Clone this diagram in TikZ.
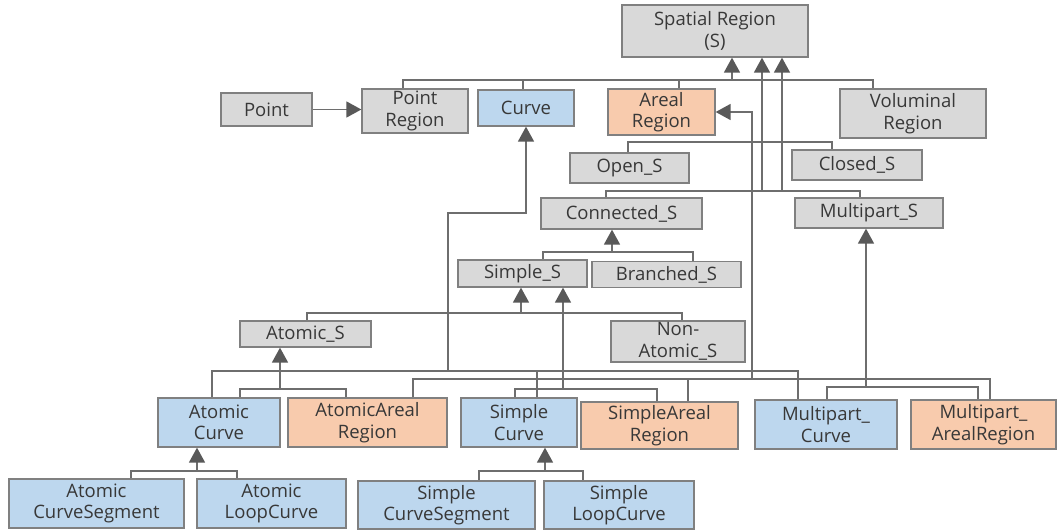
\documentclass[tikz,border=0pt]{standalone}
\usepackage{fontspec}
\setmainfont{Open Sans}
\usetikzlibrary{arrows.meta}
\definecolor{boxgray}{HTML}{D9D9D9}
\definecolor{boxblue}{HTML}{BDD7EE}
\definecolor{boxorange}{HTML}{F8CBAD}
\definecolor{edgec}{HTML}{808080}
\definecolor{wirec}{HTML}{6E6E6E}
\definecolor{tipc}{HTML}{595959}
\definecolor{txtc}{HTML}{383838}
\begin{document}
\begin{tikzpicture}[x=1pt,y=-1pt,
  basebox/.style={draw=edgec, line width=1.3pt, inner sep=0pt, align=center, text=txtc,
    font=\fontsize{18.5}{21.5}\selectfont},
  gbox/.style={basebox, fill=boxgray},
  bbox/.style={basebox, fill=boxblue},
  obox/.style={basebox, fill=boxorange},
  sz/.style 2 args={minimum width=#1pt, minimum height=#2pt},
  wire/.style={draw=wirec, line width=1.6pt, line join=miter},
  arr/.style={wire, -{Triangle[width=16pt,length=15pt,color=tipc]}}]
\useasboundingbox (0,0) rectangle (1057,532);
\fill[white] (0,0) rectangle (1057,532);

% nodes
\node[gbox, sz={186}{52}] (SR) at (715,31) {Spatial Region\\(S)};
\node[gbox, sz={91}{33}] (PT) at (266.5,109.5) {Point};
\node[gbox, sz={106}{44}] (PR) at (415,111) {Point\\Region};
\node[bbox, sz={96}{36}] (CU) at (526,108) {Curve};
\node[obox, sz={107}{46}] (AR) at (661.5,112) {Areal\\Region};
\node[gbox, sz={146}{49}] (VR) at (913,113.5) {Voluminal\\Region};
\node[gbox, sz={119}{30}] (OS) at (629.5,168) {Open\_S};
\node[gbox, sz={130}{30}] (CLS) at (857,165) {Closed\_S};
\node[gbox, sz={161}{31}] (CS) at (621.5,213.5) {Connected\_S};
\node[gbox, sz={148}{30}] (MS) at (869,213) {Multipart\_S};
\node[gbox, sz={129}{27}] (SS) at (522.5,273.5) {Simple\_S};
\node[gbox, sz={149}{26}] (BS) at (666.5,274.5) {Branched\_S};
\node[gbox, sz={131}{26}] (AS) at (305.5,334) {Atomic\_S};
\node[gbox, sz={134}{41}] (NA) at (678,341.5) {Non-\\Atomic\_S};
\node[bbox, sz={122}{49}] (AC) at (219,422.5) {Atomic\\Curve};
\node[obox, sz={159}{49}] (AAR) at (367.5,422.5) {AtomicAreal\\Region};
\node[bbox, sz={116}{49}] (SC) at (519,422.5) {Simple\\Curve};
\node[obox, sz={157}{47}] (SAR) at (659.5,425.5) {SimpleAreal\\Region};
\node[bbox, sz={142}{49}] (MC) at (826,424.5) {Multipart\_\\Curve};
\node[obox, sz={145}{49}] (MAR) at (983.5,424.5) {Multipart\_\\ArealRegion};
\node[bbox, sz={175}{49}] (ACS) at (96.5,503.5) {Atomic\\CurveSegment};
\node[bbox, sz={149}{49}] (ALC) at (271.5,503.5) {Atomic\\LoopCurve};
\node[bbox, sz={177}{48}] (SCS) at (446.5,505) {Simple\\CurveSegment};
\node[bbox, sz={150}{48}] (SLC) at (619,505) {Simple\\LoopCurve};

% top group
\coordinate (t1) at (403,80); \coordinate (t2) at (523,80);
\coordinate (t3) at (679,80); \coordinate (t4) at (873,80);
\coordinate (t0) at (732,80);
\draw[wire] (t1 |- PR.north) -- (t1) -- (t4) -- (t4 |- VR.north);
\draw[wire] (t2) -- (t2 |- CU.north);
\draw[wire] (t3) -- (t3 |- AR.north);
\draw[arr] (t0) -- (t0 |- SR.south);

% point
\draw[arr] (PT.east) -- (PT.east -| PR.west);

% open / closed
\coordinate (o1) at (628,142); \coordinate (o2) at (832,142);
\draw[wire] (o1 |- OS.north) -- (o1) -- (o2) -- (o2 |- CLS.north);

% connected / multipart
\coordinate (k1) at (606,191); \coordinate (k2) at (860,191);
\coordinate (k3) at (762,191); \coordinate (k4) at (782,191);
\draw[wire] (k1 |- CS.north) -- (k1) -- (k2) -- (k2 |- MS.north);
\draw[arr] (k3) -- (k3 |- SR.south);
\draw[arr] (k4) -- (k4 |- SR.south);

% simple / branched
\coordinate (n1) at (543,252); \coordinate (n2) at (693,252); \coordinate (n0) at (612,252);
\draw[wire] (n1 |- SS.north) -- (n1) -- (n2) -- (n2 |- BS.north);
\draw[arr] (n0) -- (n0 |- CS.south);

% atomic / non-atomic
\coordinate (q1) at (307,313); \coordinate (q2) at (682,313); \coordinate (q0) at (521,313);
\draw[wire] (q1 |- AS.north) -- (q1) -- (q2) -- (q2 |- NA.north);
\draw[arr] (q0) -- (q0 |- SS.south);

% curve group
\coordinate (c1) at (212,371); \coordinate (c2) at (537,371); \coordinate (c3) at (798,371);
\coordinate (cu) at (448,371); \coordinate (cuk) at (448,213);
\draw[wire] (c1 |- AC.north) -- (c1) -- (c3) -- (c3 |- MC.north);
\draw[wire] (c2) -- (c2 |- SC.north);
\draw[arr] (cu) -- (cuk) -| (CU.south);

% areal group
\coordinate (a1) at (413,379); \coordinate (a2) at (688,379); \coordinate (a3) at (990,379);
\coordinate (aj) at (752,379);
\draw[wire] (a1 |- AAR.north) -- (a1) -- (a3) -- (a3 |- MAR.north);
\draw[wire] (a2) -- (a2 |- SAR.north);
\draw[arr] (aj) |- (AR.east);

% multipart group
\coordinate (m1) at (827,387); \coordinate (m2) at (978,387); \coordinate (m0) at (866,387);
\draw[wire] (m1 |- MC.north) -- (m1) -- (m2) -- (m2 |- MAR.north);
\draw[arr] (m0) -- (m0 |- MS.south);

% atomic_s group
\coordinate (s1) at (240,389); \coordinate (s2) at (346,389); \coordinate (s0) at (280,389);
\draw[wire] (s1 |- AC.north) -- (s1) -- (s2) -- (s2 |- AAR.north);
\draw[arr] (s0) -- (s0 |- AS.south);

% simple_s lower group
\coordinate (p1) at (515,389); \coordinate (p2) at (657,389); \coordinate (p0) at (563,389);
\draw[wire] (p1 |- SC.north) -- (p1) -- (p2) -- (p2 |- SAR.north);
\draw[arr] (p0) -- (p0 |- SS.south);

% bottom atomic
\coordinate (b1) at (131,471); \coordinate (b2) at (237,471); \coordinate (b0) at (197,471);
\draw[wire] (b1 |- ACS.north) -- (b1) -- (b2) -- (b2 |- ALC.north);
\draw[arr] (b0) -- (b0 |- AC.south);

% bottom simple
\coordinate (d1) at (479,471); \coordinate (d2) at (583,471); \coordinate (d0) at (545,471);
\draw[wire] (d1 |- SCS.north) -- (d1) -- (d2) -- (d2 |- SLC.north);
\draw[arr] (d0) -- (d0 |- SC.south);
\end{tikzpicture}
\end{document}
